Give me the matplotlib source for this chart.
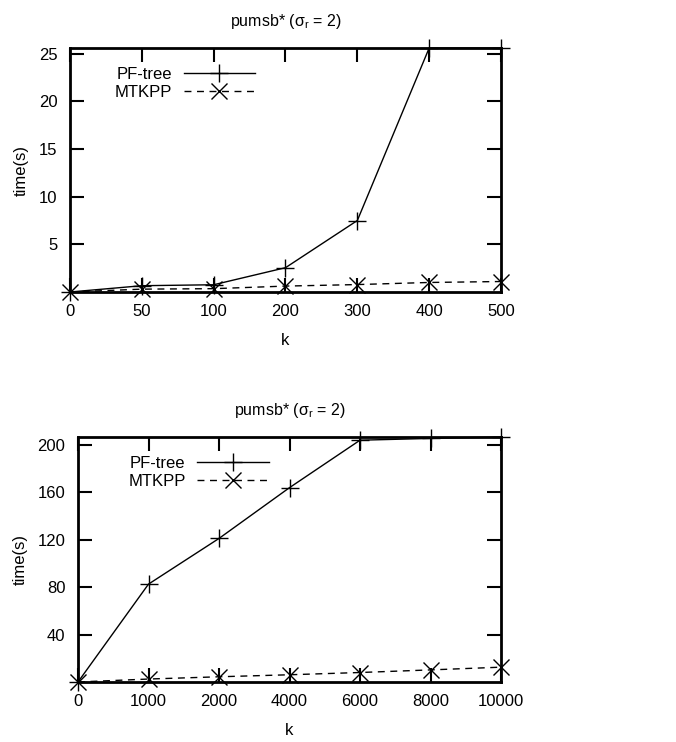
import matplotlib
matplotlib.use("Agg")
import matplotlib.pyplot as plt

plt.rcParams['font.family'] = ['Liberation Sans', 'DejaVu Sans']
plt.rcParams['font.size'] = 11

# run time vs k on pumsb*, two ranges of k
k_small = ['0', '50', '100', '200', '300', '400', '500']
pf_small = [0.0, 0.66, 0.76, 2.55, 7.5, 25.6, 25.6]
mt_small = [0.0, 0.3, 0.35, 0.62, 0.78, 1.0, 1.1]

k_large = ['0', '1000', '2000', '4000', '6000', '8000', '10000']
pf_large = [0.0, 82.5, 121.0, 163.8, 203.8, 205.3, 206.5]
mt_large = [0.0, 2.5, 4.4, 6.1, 8.0, 10.2, 12.5]

W, H = 676, 742
fig = plt.figure(figsize=(W / 100, H / 100), dpi=100)


def px_axes(l, t, r, b):
    return fig.add_axes([l / W, 1 - b / H, (r - l) / W, (b - t) / H])


def draw(ax, ks, pf, mt, ymax, yticks, leg_x):
    x = range(len(ks))
    ax.plot(x, pf, color='black', lw=1.0, marker='+', ms=13, mew=1.0,
            label='PF-tree', clip_on=False)
    ax.plot(x, mt, color='black', lw=1.0, ls=(0, (5, 4)), marker='x', ms=12,
            mew=1.0, label='MTKPP', clip_on=False)
    ax.set_xlim(0, len(ks) - 1)
    ax.set_ylim(0, ymax)
    ax.set_xticks(list(x))
    ax.set_xticklabels(ks)
    ax.set_yticks(yticks)
    ax.tick_params(direction='in', length=10, width=1.5, top=True, right=True,
                   labelsize=12, pad=9)
    for s in ax.spines.values():
        s.set_linewidth(2)
    ax.set_xlabel('k', fontsize=12, labelpad=10)
    ax.set_ylabel('time(s)', fontsize=12, labelpad=7)
    ax.set_title(u'pumsb* (\u03c3$_\\mathregular{r}$ = 2)', fontsize=11.5, pad=16)
    leg = ax.legend(loc='upper left', bbox_to_anchor=(leg_x, 0.965),
                    markerfirst=False, frameon=False, handlelength=4.3,
                    handletextpad=0.7, labelspacing=0.2, fontsize=12,
                    borderaxespad=0.2)
    return leg


ax1 = px_axes(70, 48, 501, 292)
draw(ax1, k_small, pf_small, mt_small, 25.6, [5, 10, 15, 20, 25], 0.08)

ax2 = px_axes(78, 437, 501, 682)
draw(ax2, k_large, pf_large, mt_large, 206.5, [40, 80, 120, 160, 200], 0.095)

fig.savefig('out.png', dpi=100)
